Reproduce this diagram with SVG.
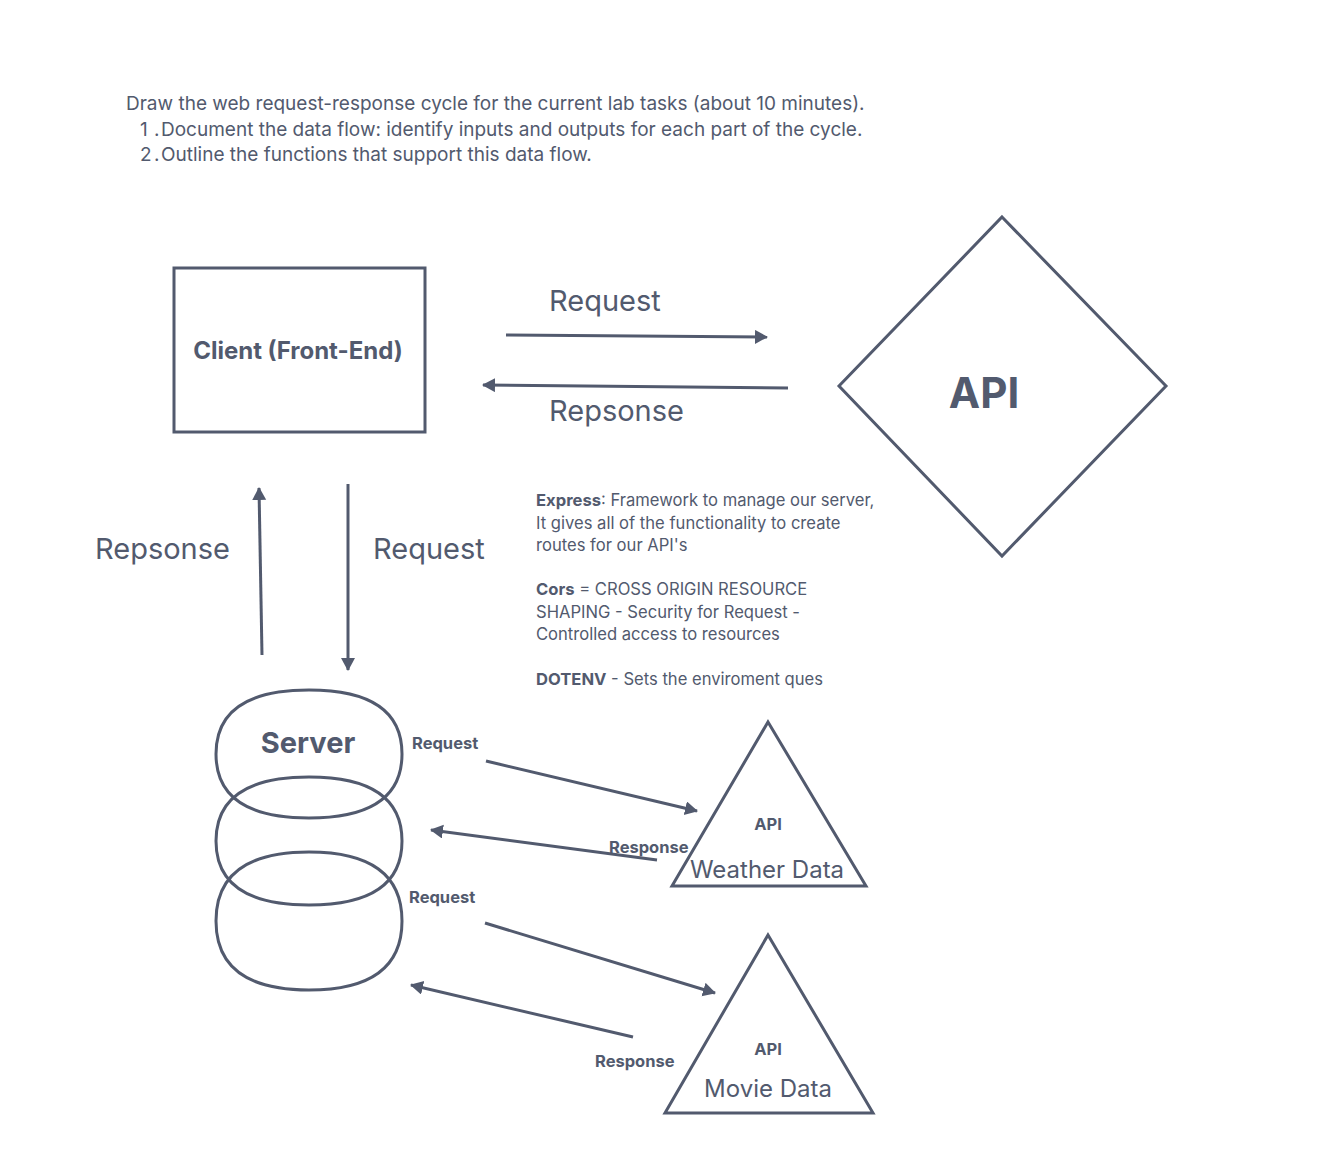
<svg xmlns="http://www.w3.org/2000/svg" width="1328" height="1174" viewBox="0 0 1328 1174">
<style>
.s{fill:none;stroke:#525a6e;stroke-width:3;stroke-linejoin:miter}
.c{fill:none;stroke:#525a6e;stroke-width:3}
text{font-family:Inter,"Noto Sans","Liberation Sans",sans-serif;fill:#525a6e}
.b{font-weight:bold}
.n{font-size:16.6px}
.sm{font-size:16.5px;font-weight:bold}
.lg{font-size:29px}
</style>
<defs>
<marker id="ah" markerUnits="userSpaceOnUse" markerWidth="16" markerHeight="16" refX="12" refY="7" orient="auto">
<path d="M0,0 L13,7 L0,14 Z" fill="#525a6e"/>
</marker>
</defs>
<rect width="1328" height="1174" fill="#ffffff"/>
<g id="header">
<text x="126" y="110" font-size="19">Draw the web request-response cycle for the current lab tasks (about 10 minutes).</text>
<text x="140" y="136" font-size="19">1<tspan x="154">.</tspan><tspan x="161">Document the data flow: identify inputs and outputs for each part of the cycle.</tspan></text>
<text x="140" y="161" font-size="19">2<tspan x="154">.</tspan><tspan x="161">Outline the functions that support this data flow.</tspan></text>
</g>
<g id="client">
<rect class="s" x="174" y="268" width="251" height="164"/>
<text x="298" y="359" font-size="24" class="b" text-anchor="middle">Client (Front-End)</text>
</g>
<g id="api-main">
<path class="s" d="M1002,217 L1166,386 L1002,556 L839,386 Z"/>
<text x="984" y="408" font-size="42" class="b" text-anchor="middle">API</text>
</g>
<g id="notes">
<text x="536" y="506" class="n"><tspan class="b">Express</tspan>: Framework to manage our server,</text>
<text x="536" y="529" class="n">It gives all of the functionality to create</text>
<text x="536" y="551" class="n">routes for our API's</text>
<text x="536" y="595" class="n"><tspan class="b">Cors</tspan> = CROSS ORIGIN RESOURCE</text>
<text x="536" y="618" class="n">SHAPING - Security for Request -</text>
<text x="536" y="640" class="n">Controlled access to resources</text>
<text x="536" y="685" class="n"><tspan class="b">DOTENV</tspan> - Sets the enviroment ques</text>
</g>
<g id="server">
<path class="s" d="M309,690 C383,690 402,720 402,754 C402,788 383,818 309,818 C235,818 216,788 216,754 C216,720 235,690 309,690 Z"/>
<path class="s" d="M309,777 C383,777 402,807 402,841 C402,875 383,905 309,905 C235,905 216,875 216,841 C216,807 235,777 309,777 Z"/>
<path class="s" d="M309,852 C383,852 402,885 402,921 C402,957 383,990 309,990 C235,990 216,957 216,921 C216,885 235,852 309,852 Z"/>
<text x="308" y="753" font-size="29" class="b" text-anchor="middle">Server</text>
</g>
<g id="weather-api">
<path class="s" d="M768,722 L866,886 L672,886 Z"/>
<text x="768" y="830" class="sm" text-anchor="middle">API</text>
<text x="767" y="878" font-size="24" text-anchor="middle">Weather Data</text>
</g>
<g id="movie-api">
<path class="s" d="M768,935 L873,1113 L665,1113 Z"/>
<text x="768" y="1055" class="sm" text-anchor="middle">API</text>
<text x="768" y="1097" font-size="24" text-anchor="middle">Movie Data</text>
</g>
<g id="connectors">
<line class="c" x1="506" y1="335" x2="767" y2="337" marker-end="url(#ah)"/>
<line class="c" x1="788" y1="388" x2="483" y2="385" marker-end="url(#ah)"/>
<line class="c" x1="262" y1="655" x2="259" y2="488" marker-end="url(#ah)"/>
<line class="c" x1="348" y1="484" x2="348" y2="670" marker-end="url(#ah)"/>
<line class="c" x1="486" y1="761" x2="697" y2="811" marker-end="url(#ah)"/>
<line class="c" x1="657" y1="860" x2="431" y2="830" marker-end="url(#ah)"/>
<line class="c" x1="485" y1="923" x2="715" y2="993" marker-end="url(#ah)"/>
<line class="c" x1="633" y1="1037" x2="411" y2="985" marker-end="url(#ah)"/>
</g>
<g id="connector-labels">
<text x="549" y="311" class="lg">Request</text>
<text x="549" y="421" class="lg">Repsonse</text>
<text x="95" y="559" class="lg">Repsonse</text>
<text x="373" y="559" class="lg">Request</text>
<text x="412" y="749" class="sm">Request</text>
<text x="609" y="853" class="sm">Response</text>
<text x="409" y="903" class="sm">Request</text>
<text x="595" y="1067" class="sm">Response</text>
</g>
</svg>
